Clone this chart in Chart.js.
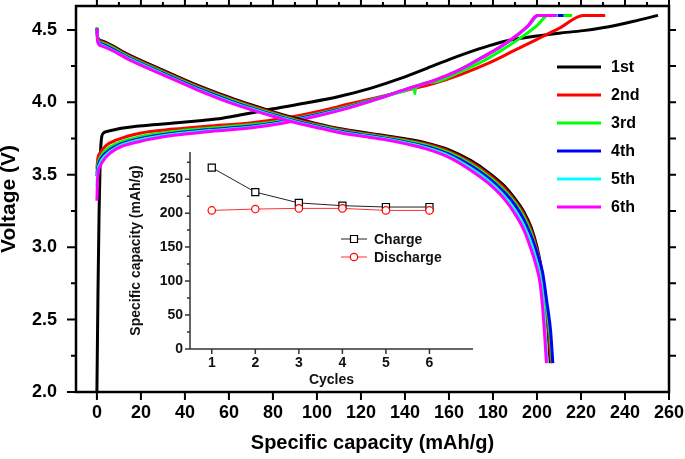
<!DOCTYPE html>
<html>
<head>
<meta charset="utf-8">
<script src="https://cdn.jsdelivr.net/npm/chart.js@4/dist/chart.umd.min.js"></script>
<style>
  html, body { margin: 0; padding: 0; background: #ffffff; }
  #wrap { position: relative; width: 685px; height: 459px; }
  canvas { position: absolute; left: 0; top: 0; }
</style>
</head>
<body>
<div id="wrap">
  <canvas id="main" width="685" height="459"></canvas>
  <canvas id="inset" width="685" height="459"></canvas>
</div>
<script>
// ---------------- DATA ----------------
const cycleLabels = ['1st', '2nd', '3rd', '4th', '5th', '6th'];

// Charge curves: [specific capacity (mAh/g), voltage (V)]
const charge1 = [[0,2.0],[0.5,2.7],[1.0,3.25],[1.5,3.6],[2.0,3.74],[2.8,3.785],[5,3.80],[12,3.822],[22,3.84],[35,3.857],[48,3.875],[57,3.89],[65,3.912],[80,3.955],[95,3.995],[110,4.04],[125,4.10],[138,4.165],[150,4.235],[160,4.295],[168,4.34],[178,4.39],[188,4.43],[200,4.458],[210,4.477],[221,4.495],[232,4.52],[244,4.56],[255,4.60]];
const charge2 = [[0,3.54],[0.4,3.61],[1.4,3.65],[4,3.70],[9,3.74],[19.5,3.787],[35,3.815],[50,3.835],[69.5,3.857],[85,3.89],[100,3.935],[115,3.99],[128,4.035],[140,4.08],[153,4.13],[165,4.19],[178,4.27],[190,4.36],[200,4.435],[210,4.51],[221,4.60],[231,4.60]];
const charge3 = [[0,3.51],[0.4,3.57],[1.5,3.62],[4,3.67],[9,3.715],[19.5,3.762],[35,3.798],[50,3.82],[69.5,3.845],[85,3.875],[100,3.92],[115,3.975],[128,4.03],[140,4.08],[144.2,4.098],[144.5,4.06],[144.8,4.10],[153,4.14],[165,4.21],[175,4.28],[185,4.37],[193,4.45],[200,4.53],[205,4.60],[216,4.60]];
const charge4 = [[0,3.49],[0.4,3.55],[1.5,3.60],[4,3.65],[9,3.70],[19.5,3.748],[35,3.787],[50,3.81],[69.5,3.835],[85,3.868],[100,3.915],[115,3.97],[128,4.027],[140,4.088],[153,4.15],[165,4.225],[175,4.308],[183,4.378],[191,4.462],[196,4.527],[200.6,4.60],[212,4.60]];
const charge5 = [[0,3.42],[0.4,3.52],[1.5,3.58],[4,3.635],[9,3.69],[19.5,3.74],[35,3.78],[50,3.803],[69.5,3.828],[85,3.862],[100,3.91],[115,3.967],[128,4.025],[140,4.087],[153,4.15],[165,4.225],[175,4.31],[183,4.38],[191,4.464],[196,4.53],[200.3,4.60],[209.5,4.60]];
const charge6 = [[0,3.32],[0.3,3.47],[1.5,3.56],[4,3.62],[9,3.68],[19.5,3.73],[35,3.772],[50,3.797],[69.5,3.822],[85,3.857],[100,3.905],[115,3.963],[128,4.025],[140,4.088],[153,4.15],[165,4.226],[175,4.31],[183,4.38],[191,4.465],[196,4.53],[200,4.60],[209,4.60]];

// Discharge curves: [specific capacity (mAh/g), voltage (V)]
const discharge1 = [[0,4.50],[0.4,4.445],[2,4.425],[15,4.325],[30,4.222],[45,4.122],[60,4.035],[70,3.983],[80,3.935],[90,3.89],[100,3.853],[110,3.82],[120,3.795],[130,3.772],[140,3.748],[150,3.718],[160,3.672],[170,3.598],[178,3.515],[185,3.425],[190,3.335],[194,3.245],[197.5,3.13],[200,3.0],[202,2.85],[203.5,2.65],[205,2.42],[206,2.2]];
const discharge2 = [[0,4.51],[0.4,4.44],[2,4.418],[15,4.318],[30,4.215],[45,4.115],[60,4.028],[70,3.976],[80,3.928],[90,3.884],[100,3.847],[110,3.814],[120,3.789],[130,3.766],[140,3.741],[150,3.71],[160,3.662],[170,3.586],[178,3.502],[185,3.41],[190,3.32],[194,3.228],[197.5,3.11],[200,2.98],[202,2.84],[203.7,2.65],[205.3,2.42],[206.5,2.2]];
const discharge3 = [[0,4.52],[0.4,4.435],[2,4.411],[15,4.311],[30,4.208],[45,4.108],[60,4.021],[70,3.969],[80,3.921],[90,3.877],[100,3.841],[110,3.808],[120,3.783],[130,3.76],[140,3.734],[150,3.702],[160,3.652],[170,3.574],[178,3.489],[185,3.395],[190,3.305],[194,3.21],[197.5,3.09],[200,2.96],[202.2,2.82],[204,2.63],[205.8,2.42],[207,2.2]];
const discharge4 = [[0,4.51],[0.4,4.43],[2,4.404],[15,4.304],[30,4.201],[45,4.101],[60,4.014],[70,3.962],[80,3.914],[90,3.871],[100,3.835],[110,3.802],[120,3.777],[130,3.754],[140,3.727],[150,3.694],[160,3.642],[170,3.562],[178,3.476],[185,3.38],[190,3.29],[194,3.19],[197.5,3.07],[200,2.96],[202.5,2.83],[204.5,2.62],[206.2,2.42],[207.2,2.2]];
const discharge5 = [[0,4.50],[0.4,4.425],[2,4.397],[15,4.298],[30,4.195],[45,4.095],[60,4.007],[70,3.956],[80,3.909],[90,3.866],[100,3.83],[110,3.797],[120,3.772],[130,3.75],[140,3.721],[150,3.685],[160,3.631],[170,3.545],[178,3.457],[185,3.355],[190,3.255],[194,3.15],[197.5,3.02],[199.8,2.9],[201.8,2.75],[203.2,2.55],[204.6,2.2]];
const discharge6 = [[0,4.51],[0.3,4.42],[2,4.39],[15,4.292],[30,4.19],[45,4.09],[60,4.0],[70,3.95],[80,3.904],[90,3.861],[100,3.825],[110,3.792],[120,3.767],[130,3.745],[140,3.715],[150,3.677],[160,3.62],[170,3.53],[178,3.44],[185,3.335],[190,3.23],[194,3.12],[197,3.0],[199.5,2.88],[201.5,2.74],[203,2.5],[204.3,2.2]];

// Main axis ticks
const xMajorTicks = [0,20,40,60,80,100,120,140,160,180,200,220,240,260];
const xMinorTicks = [10,30,50,70,90,110,130,150,170,190,210,230,250];
const yMajorTicks = [2.0,2.5,3.0,3.5,4.0,4.5];
const yMinorTicks = [2.25,2.75,3.25,3.75,4.25];

// Inset data
const insetCycles = [1,2,3,4,5,6];
const insetCharge = [267,231,215,211,209,209];
const insetDischarge = [204,206,207,207,204,204];
const insetYMajor = [0,50,100,150,200,250];
const insetYMinor = [25,75,125,175,225,275];

// ---------------- STYLE ----------------
const FONT = "'Liberation Sans', Arial, Helvetica, sans-serif";
const cycleColors = ['#000000','#ff0000','#00ff00','#0000ff','#00ffff','#ff00ff'];

const chargeCurves = [charge1, charge2, charge3, charge4, charge5, charge6];
const dischargeCurves = [discharge1, discharge2, discharge3, discharge4, discharge5, discharge6];

const datasets = [];
chargeCurves.forEach((c, i) => {
  datasets.push({
    label: cycleLabels[i],
    data: c.map(p => ({x: p[0], y: p[1]})),
    borderColor: cycleColors[i], backgroundColor: cycleColors[i],
    borderWidth: 3, showLine: true, pointRadius: 0, fill: false,
    cubicInterpolationMode: 'monotone', order: 100 - i
  });
});
dischargeCurves.forEach((c, i) => {
  datasets.push({
    label: cycleLabels[i] + ' discharge',
    data: c.map(p => ({x: p[0], y: p[1]})),
    borderColor: cycleColors[i], backgroundColor: cycleColors[i],
    borderWidth: 3, showLine: true, pointRadius: 0, fill: false,
    cubicInterpolationMode: 'monotone', order: 50 - i
  });
});

function noScalePadding(s) {
  s.paddingTop = 0; s.paddingBottom = 0; s.paddingLeft = 0; s.paddingRight = 0;
}

const mainDecor = {
  id: 'mainDecor',
  afterDraw(chart) {
    const {ctx, chartArea: a} = chart;
    const xs = chart.scales.x, ys = chart.scales.y;
    ctx.save();
    ctx.strokeStyle = '#000';
    ctx.lineWidth = 2.5;
    ctx.strokeRect(a.left, a.top, a.right - a.left, a.bottom - a.top);
    ctx.lineWidth = 2;
    ctx.beginPath();
    yMajorTicks.forEach(v => { const p = ys.getPixelForValue(v); ctx.moveTo(a.left, p); ctx.lineTo(a.left - 9, p); });
    yMinorTicks.forEach(v => { const p = ys.getPixelForValue(v); ctx.moveTo(a.left, p); ctx.lineTo(a.left - 5, p); });
    yMajorTicks.concat(yMinorTicks).forEach(v => { if (v <= ys.min) return; const p = ys.getPixelForValue(v); ctx.moveTo(a.right, p); ctx.lineTo(a.right + 7, p); });
    xMajorTicks.forEach(v => { const p = xs.getPixelForValue(v); ctx.moveTo(p, a.bottom); ctx.lineTo(p, a.bottom + 8); });
    xMajorTicks.forEach(v => { const p = xs.getPixelForValue(v); ctx.moveTo(p, a.top); ctx.lineTo(p, a.top - 7); });
    xMinorTicks.forEach(v => { const p = xs.getPixelForValue(v); ctx.moveTo(p, a.top); ctx.lineTo(p, a.top - 4); });
    ctx.stroke();
    // legend
    ctx.font = 'bold 16px ' + FONT;
    ctx.textBaseline = 'middle';
    ctx.textAlign = 'left';
    for (let i = 0; i < 6; i++) {
      const ds = chart.data.datasets[i];
      const yy = 67 + 28 * i;
      ctx.strokeStyle = ds.borderColor;
      ctx.lineWidth = 3;
      ctx.beginPath(); ctx.moveTo(557, yy); ctx.lineTo(601, yy); ctx.stroke();
      ctx.fillStyle = '#000';
      ctx.fillText(ds.label, 611, yy + 1);
    }
    ctx.restore();
  }
};

new Chart(document.getElementById('main'), {
  type: 'scatter',
  data: { datasets },
  options: {
    responsive: false, animation: false, devicePixelRatio: 1,
    layout: { padding: { left: 0, top: 6, right: 16, bottom: 0 }, autoPadding: false },
    plugins: { legend: { display: false }, tooltip: { enabled: false } },
    scales: {
      x: {
        type: 'linear', position: 'bottom', min: -9.5, max: 260,
        afterBuildTicks: s => { s.ticks = xMajorTicks.map(v => ({value: v})); },
        afterFit: s => { s.height = 67; noScalePadding(s); },
        grid: { display: false, drawTicks: false }, border: { display: false },
        ticks: { font: { family: FONT, size: 18, weight: 'bold', lineHeight: 1 }, color: '#000', padding: 12, maxRotation: 0, autoSkip: false },
        title: { display: true, text: 'Specific capacity (mAh/g)', color: '#000', font: { family: FONT, size: 20, weight: 'bold', lineHeight: 1 }, padding: { top: 0, bottom: 6 } }
      },
      y: {
        type: 'linear', position: 'left', min: 2.0, max: 4.665,
        afterBuildTicks: s => { s.ticks = yMajorTicks.map(v => ({value: v})); },
        afterFit: s => { s.width = 76; noScalePadding(s); },
        grid: { display: false, drawTicks: false }, border: { display: false },
        ticks: { font: { family: FONT, size: 18, weight: 'bold', lineHeight: 1 }, color: '#000', padding: 19, autoSkip: false, callback: v => Number(v).toFixed(1) },
        title: { display: true, text: 'Voltage (V)', color: '#000', font: { family: FONT, size: 21, weight: 'bold', lineHeight: 1 }, padding: { top: -1, bottom: 0 } }
      }
    }
  },
  plugins: [mainDecor]
});

// ---------------- INSET ----------------
const insetDecor = {
  id: 'insetDecor',
  afterDraw(chart) {
    const {ctx, chartArea: a} = chart;
    const xs = chart.scales.x, ys = chart.scales.y;
    ctx.save();
    ctx.strokeStyle = '#333';
    ctx.lineWidth = 1.5;
    ctx.beginPath();
    ctx.moveTo(a.left, a.top); ctx.lineTo(a.left, a.bottom); ctx.lineTo(a.right, a.bottom);
    insetYMajor.forEach(v => { const p = ys.getPixelForValue(v); ctx.moveTo(a.left, p); ctx.lineTo(a.left - 5, p); });
    insetYMinor.forEach(v => { const p = ys.getPixelForValue(v); ctx.moveTo(a.left, p); ctx.lineTo(a.left - 3, p); });
    insetCycles.forEach(v => { const p = xs.getPixelForValue(v); ctx.moveTo(p, a.bottom); ctx.lineTo(p, a.bottom + 5); });
    ctx.stroke();
    // legend
    ctx.font = 'bold 14px ' + FONT;
    ctx.textBaseline = 'middle';
    ctx.textAlign = 'left';
    const rows = [[chart.data.datasets[0], 239], [chart.data.datasets[1], 257]];
    rows.forEach(([ds, yy]) => {
      ctx.strokeStyle = ds.borderColor;
      ctx.lineWidth = 1;
      ctx.beginPath(); ctx.moveTo(341, yy); ctx.lineTo(367, yy); ctx.stroke();
      ctx.fillStyle = '#fff';
      ctx.lineWidth = 1.2;
      ctx.strokeStyle = ds.pointBorderColor;
      ctx.beginPath();
      if (ds.pointStyle === 'rect') { ctx.rect(354 - 3.5, yy - 3.5, 7, 7); }
      else { ctx.arc(354, yy, 3.7, 0, Math.PI * 2); }
      ctx.fill(); ctx.stroke();
      ctx.fillStyle = '#111';
      ctx.fillText(ds.label, 374, yy + 1);
    });
    ctx.restore();
  }
};

new Chart(document.getElementById('inset'), {
  type: 'line',
  data: {
    datasets: [
      { label: 'Charge', data: insetCycles.map((c, i) => ({x: c, y: insetCharge[i]})),
        borderColor: '#222', borderWidth: 1, pointStyle: 'rect', pointRadius: 5, pointBorderWidth: 1.2,
        pointBackgroundColor: '#ffffff', pointBorderColor: '#000', tension: 0, order: 1 },
      { label: 'Discharge', data: insetCycles.map((c, i) => ({x: c, y: insetDischarge[i]})),
        borderColor: '#ff3030', borderWidth: 1, pointStyle: 'circle', pointRadius: 3.7, pointBorderWidth: 1.2,
        pointBackgroundColor: '#ffffff', pointBorderColor: '#ff0000', tension: 0, order: 0 }
    ]
  },
  options: {
    responsive: false, animation: false, devicePixelRatio: 1,
    layout: { padding: { left: 120, top: 152, right: 212, bottom: 64 }, autoPadding: false },
    plugins: { legend: { display: false }, tooltip: { enabled: false } },
    scales: {
      x: {
        type: 'linear', position: 'bottom', min: 0.5, max: 7,
        afterBuildTicks: s => { s.ticks = insetCycles.map(v => ({value: v})); },
        afterFit: s => { s.height = 46; noScalePadding(s); },
        grid: { display: false, drawTicks: false }, border: { display: false },
        ticks: { font: { family: FONT, size: 14, weight: 'bold', lineHeight: 1 }, color: '#111', padding: 7, maxRotation: 0, autoSkip: false },
        title: { display: true, text: 'Cycles', color: '#111', font: { family: FONT, size: 14, weight: 'bold', lineHeight: 1 }, padding: { top: 0, bottom: 8 } }
      },
      y: {
        type: 'linear', position: 'left', min: 0, max: 290,
        afterBuildTicks: s => { s.ticks = insetYMajor.map(v => ({value: v})); },
        afterFit: s => { s.width = 70; noScalePadding(s); },
        grid: { display: false, drawTicks: false }, border: { display: false },
        ticks: { font: { family: FONT, size: 14, weight: 'bold', lineHeight: 1 }, color: '#111', padding: 7, autoSkip: false },
        title: { display: true, text: 'Specific capacity (mAh/g)', color: '#111', font: { family: FONT, size: 14, weight: 'bold', lineHeight: 1 }, padding: { top: 9, bottom: 0 } }
      }
    }
  },
  plugins: [insetDecor]
});
</script>
</body>
</html>
